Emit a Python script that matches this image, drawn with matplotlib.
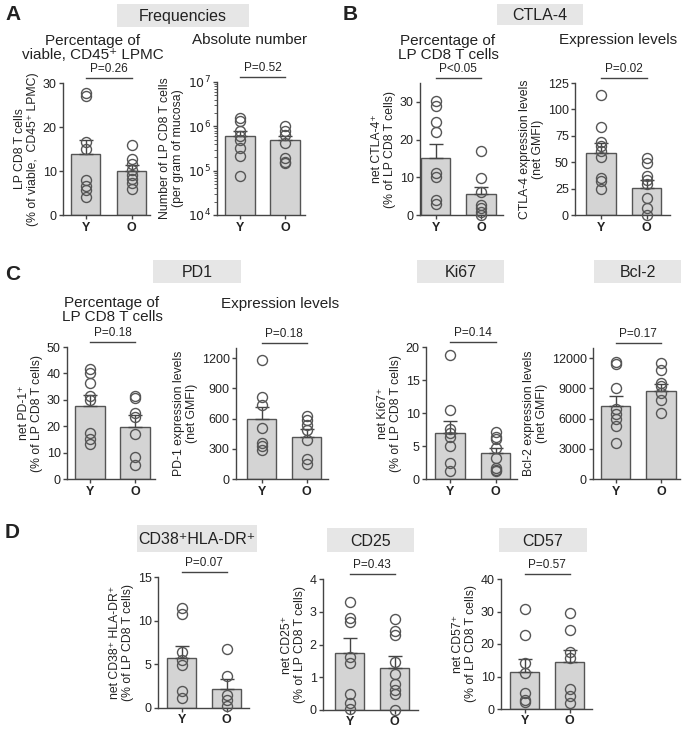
import matplotlib
matplotlib.use('Agg')
import matplotlib.pyplot as plt
import numpy as np
from matplotlib.patches import Rectangle
import matplotlib.ticker as mticker

plt.rcParams['font.family'] = ['Liberation Sans', 'DejaVu Sans']

W, H = 685, 729
groups = ['Y', 'O']

# ---------------- data ----------------
a1_young = [27.8, 27.0, 16.6, 14.9, 7.9, 6.7, 5.6, 4.1]
a1_old = [15.8, 12.7, 11.5, 10.2, 9.2, 8.2, 7.3, 6.0]
a1_mean = [13.9, 10.0]
a1_sem = [3.1, 1.3]

a2_young = [1.54e6, 1.3e6, 7.7e5, 5.9e5, 5.0e5, 3.3e5, 2.1e5, 7.6e4]
a2_old = [1.03e6, 7.7e5, 6.5e5, 4.2e5, 1.9e5, 1.6e5, 1.5e5]
a2_mean = [6.2e5, 4.8e5]
a2_sem = [1.5e5, 1.3e5]

b1_young = [30.2, 29.0, 24.6, 21.9, 11.2, 10.0, 4.0, 2.8]
b1_old = [17.0, 9.8, 6.0, 2.7, 1.8, 0.9, 0.0]
b1_mean = [15.0, 5.7]
b1_sem = [3.9, 1.8]

b2_young = [114, 83, 69, 65, 60.5, 55, 35, 32.5, 25]
b2_old = [54, 49, 37, 33, 29, 16.5, 6.3, 0]
b2_mean = [58.7, 25.4]
b2_sem = [9.6, 7.9]

c1_young = [41.7, 40.2, 36.2, 31.4, 30.1, 17.6, 15.3, 13.2]
c1_old = [31.4, 30.8, 24.9, 23.6, 17.0, 8.2, 5.3]
c1_mean = [27.6, 19.8]
c1_sem = [4.4, 4.3]

c2_young = [1183, 817, 733, 510, 357, 323, 290]
c2_old = [623, 583, 533, 483, 383, 200, 150]
c2_mean = [600, 417]
c2_sem = [117, 76]

ki_young = [18.8, 10.4, 7.6, 7.0, 6.3, 5.0, 2.5, 1.2]
ki_old = [7.1, 6.4, 6.0, 4.7, 3.2, 1.7, 1.4, 1.2]
ki_mean = [6.9, 3.9]
ki_sem = [1.9, 0.8]

bcl_young = [11580, 11420, 9000, 6900, 6410, 5930, 5280, 3560]
bcl_old = [11510, 10830, 9540, 9220, 8560, 7850, 6550]
bcl_mean = [7260, 8750]
bcl_sem = [980, 650]

cd38_young = [11.5, 10.8, 6.4, 5.5, 4.9, 1.9, 1.1]
cd38_old = [6.8, 3.7, 1.5, 0.95, 0.2]
cd38_mean = [5.7, 2.2]
cd38_sem = [1.4, 1.1]

cd25_young = [3.3, 2.8, 2.7, 1.61, 1.44, 0.48, 0.21, 0.03]
cd25_old = [2.78, 2.4, 2.29, 1.47, 1.09, 0.79, 0.61, 0.5, 0.0]
cd25_mean = [1.75, 1.29]
cd25_sem = [0.45, 0.35]

cd57_young = [30.7, 22.8, 14.3, 11.0, 4.9, 2.9, 2.2]
cd57_old = [29.5, 24.4, 17.6, 15.8, 6.2, 3.9, 1.7]
cd57_mean = [11.3, 14.5]
cd57_sem = [4.0, 3.6]

p_values = ['P=0.26', 'P=0.52', 'P<0.05', 'P=0.02', 'P=0.18', 'P=0.18',
            'P=0.14', 'P=0.17', 'P=0.07', 'P=0.43', 'P=0.57']

# ---------------- styling ----------------
BAR_FC = '#d4d4d4'
EDGE = '#555555'
AXC = '#444444'
TXT = '#222222'

fig = plt.figure(figsize=(W / 100, H / 100), dpi=100)


def px_text(x, y, s, **kw):
    fig.text(x / W, 1 - y / H, s, **kw)


def header(x0, x1, y0, y1, s):
    fig.patches.append(Rectangle((x0 / W, 1 - y1 / H), (x1 - x0) / W, (y1 - y0) / H,
                                 transform=fig.transFigure, facecolor='#e6e6e6',
                                 edgecolor='none', zorder=0))
    px_text((x0 + x1) / 2, (y0 + y1) / 2 + 1, s, ha='center', va='center',
            fontsize=11.5, color=TXT)


def panel(box, young, old, mean, sem, ylim, yticks, ylabel, pval, log=False,
          ticklabels=None, xpad=2):
    spine, end, ytop, ybot, yc, oc = box
    ax = fig.add_axes([spine / W, 1 - ybot / H, (end - spine) / W, (ybot - ytop) / H])
    unit = oc - yc
    ax.set_xlim(-(yc - spine) / unit, 1 + (end - oc) / unit)
    if log:
        ax.set_yscale('log')
    ax.set_ylim(*ylim)
    ax.bar([0, 1], mean, width=0.65, color=BAR_FC, edgecolor=EDGE, linewidth=1.0, zorder=2)
    ax.errorbar([0, 1], mean, yerr=[[0, 0], sem], fmt='none', ecolor=AXC,
                elinewidth=1.0, capsize=5, capthick=1.0, zorder=3)
    for i, vals in enumerate([young, old]):
        ax.plot(np.full(len(vals), i), vals, 'o', mfc='none', mec=EDGE, ms=7.2,
                mew=1.0, zorder=4, clip_on=False)
    for s in ['top', 'right']:
        ax.spines[s].set_visible(False)
    for s in ['left', 'bottom']:
        ax.spines[s].set_color(AXC)
        ax.spines[s].set_linewidth(1.0)
    ax.set_xticks([0, 1])
    ax.set_xticklabels(groups, fontsize=10, fontweight='bold', color=TXT)
    ax.set_yticks(yticks)
    if ticklabels is not None:
        ax.set_yticklabels(ticklabels)
    if log:
        ax.yaxis.set_minor_locator(mticker.LogLocator(base=10, subs=np.arange(2, 10)))
        ax.yaxis.set_minor_formatter(mticker.NullFormatter())
        ax.tick_params(axis='y', which='minor', length=2, color=AXC, width=0.6)
    ax.tick_params(axis='both', which='major', length=3, width=1.0, color=AXC,
                   labelsize=9, labelcolor=TXT, pad=1.5)
    ax.tick_params(axis='x', pad=xpad)
    ax.set_ylabel(ylabel, fontsize=8.8, color=TXT, labelpad=3, linespacing=1.1)
    trans = matplotlib.transforms.blended_transform_factory(ax.transData, ax.transAxes)
    ax.plot([0, 1], [1.035, 1.035], color=AXC, lw=1.0, transform=trans, clip_on=False)
    ax.text(0.5, 1.06, pval, transform=trans, ha='center', va='bottom', fontsize=8.5,
            color=TXT)
    ax.patch.set_alpha(0)
    return ax


sup = '\u207a'

# Row A
panel((63, 150, 83, 215, 85.5, 131.5), a1_young, a1_old, a1_mean, a1_sem, (0, 30),
      [0, 10, 20, 30], 'LP CD8 T cells\n(% of viable,  CD45' + sup + ' LPMC)', p_values[0])
panel((217, 305, 82, 215, 240, 285), a2_young, a2_old, a2_mean, a2_sem, (1e4, 1e7),
      [1e4, 1e5, 1e6, 1e7], 'Number of LP CD8 T cells\n(per gram of mucosa)', p_values[1],
      log=True, ticklabels=['$10^4$', '$10^5$', '$10^6$', '$10^7$'])
# Row B
panel((420, 503, 83, 215, 435.5, 481), b1_young, b1_old, b1_mean, b1_sem, (0, 35),
      [0, 10, 20, 30], 'net CTLA-4' + sup + '\n(% of LP CD8 T cells)', p_values[2])
panel((575, 670, 83, 215, 601, 646.5), b2_young, b2_old, b2_mean, b2_sem, (0, 125),
      [0, 25, 50, 75, 100, 125], 'CTLA-4 expression levels\n(net GMFI)', p_values[3])
# Row C
panel((67, 155, 347, 479, 90, 135), c1_young, c1_old, c1_mean, c1_sem, (0, 50),
      [0, 10, 20, 30, 40, 50], 'net PD-1' + sup + '\n(% of LP CD8 T cells)', p_values[4])
panel((236, 328, 348, 479, 261.5, 306.5), c2_young, c2_old, c2_mean, c2_sem, (0, 1300),
      [0, 300, 600, 900, 1200], 'PD-1 expression levels\n(net GMFI)', p_values[5])
panel((426, 517, 347, 479, 450, 495.5), ki_young, ki_old, ki_mean, ki_sem, (0, 20),
      [0, 5, 10, 15, 20], 'net Ki67' + sup + '\n(% of LP CD8 T cells)', p_values[6])
panel((593, 680, 348, 479, 615.5, 661), bcl_young, bcl_old, bcl_mean, bcl_sem, (0, 13000),
      [0, 3000, 6000, 9000, 12000], 'Bcl-2 expression levels\n(net GMFI)', p_values[7])
# Row D
panel((158, 249, 577, 708, 181.5, 226.5), cd38_young, cd38_old, cd38_mean, cd38_sem, (0, 15),
      [0, 5, 10, 15], 'net CD38' + sup + ' HLA-DR' + sup + '\n(% of LP CD8 T cells)', p_values[8],
      xpad=1)
panel((323, 418, 579, 710, 349.5, 394.5), cd25_young, cd25_old, cd25_mean, cd25_sem, (0, 4),
      [0, 1, 2, 3, 4], 'net CD25' + sup + '\n(% of LP CD8 T cells)', p_values[9], xpad=1)
panel((501, 592, 579, 709, 524.5, 569.5), cd57_young, cd57_old, cd57_mean, cd57_sem, (0, 40),
      [0, 10, 20, 30, 40], 'net CD57' + sup + '\n(% of LP CD8 T cells)', p_values[10], xpad=1)

# Headers
header(117, 249, 4, 27, 'Frequencies')
header(497, 583, 4, 25, 'CTLA-4')
header(153, 241, 260, 283, 'PD1')
header(417, 504, 260, 283, 'Ki67')
header(594, 681, 260, 283, 'Bcl-2')
header(137, 257, 525, 552, 'CD38' + sup + 'HLA-DR' + sup)
header(327, 414, 528, 552, 'CD25')
header(499, 587, 528, 552, 'CD57')

# Sub-titles
px_text(93, 48, 'Percentage of\nviable, CD45' + sup + ' LPMC', ha='center', va='center',
        fontsize=11, color=TXT, linespacing=1.05)
px_text(250, 40, 'Absolute number', ha='center', va='center', fontsize=11, color=TXT)
px_text(448, 48, 'Percentage of\nLP CD8 T cells', ha='center', va='center',
        fontsize=11, color=TXT, linespacing=1.05)
px_text(618, 40, 'Expression levels', ha='center', va='center', fontsize=11, color=TXT)
px_text(112, 310, 'Percentage of\nLP CD8 T cells', ha='center', va='center',
        fontsize=11, color=TXT, linespacing=1.05)
px_text(280, 304, 'Expression levels', ha='center', va='center', fontsize=11, color=TXT)

# Panel letters
for x, y, s in [(5, 14, 'A'), (343, 14, 'B'), (5, 275, 'C'), (5, 532, 'D')]:
    px_text(x, y, s, ha='left', va='center', fontsize=15, fontweight='bold', color=TXT)

fig.savefig('out.png', dpi=100)
